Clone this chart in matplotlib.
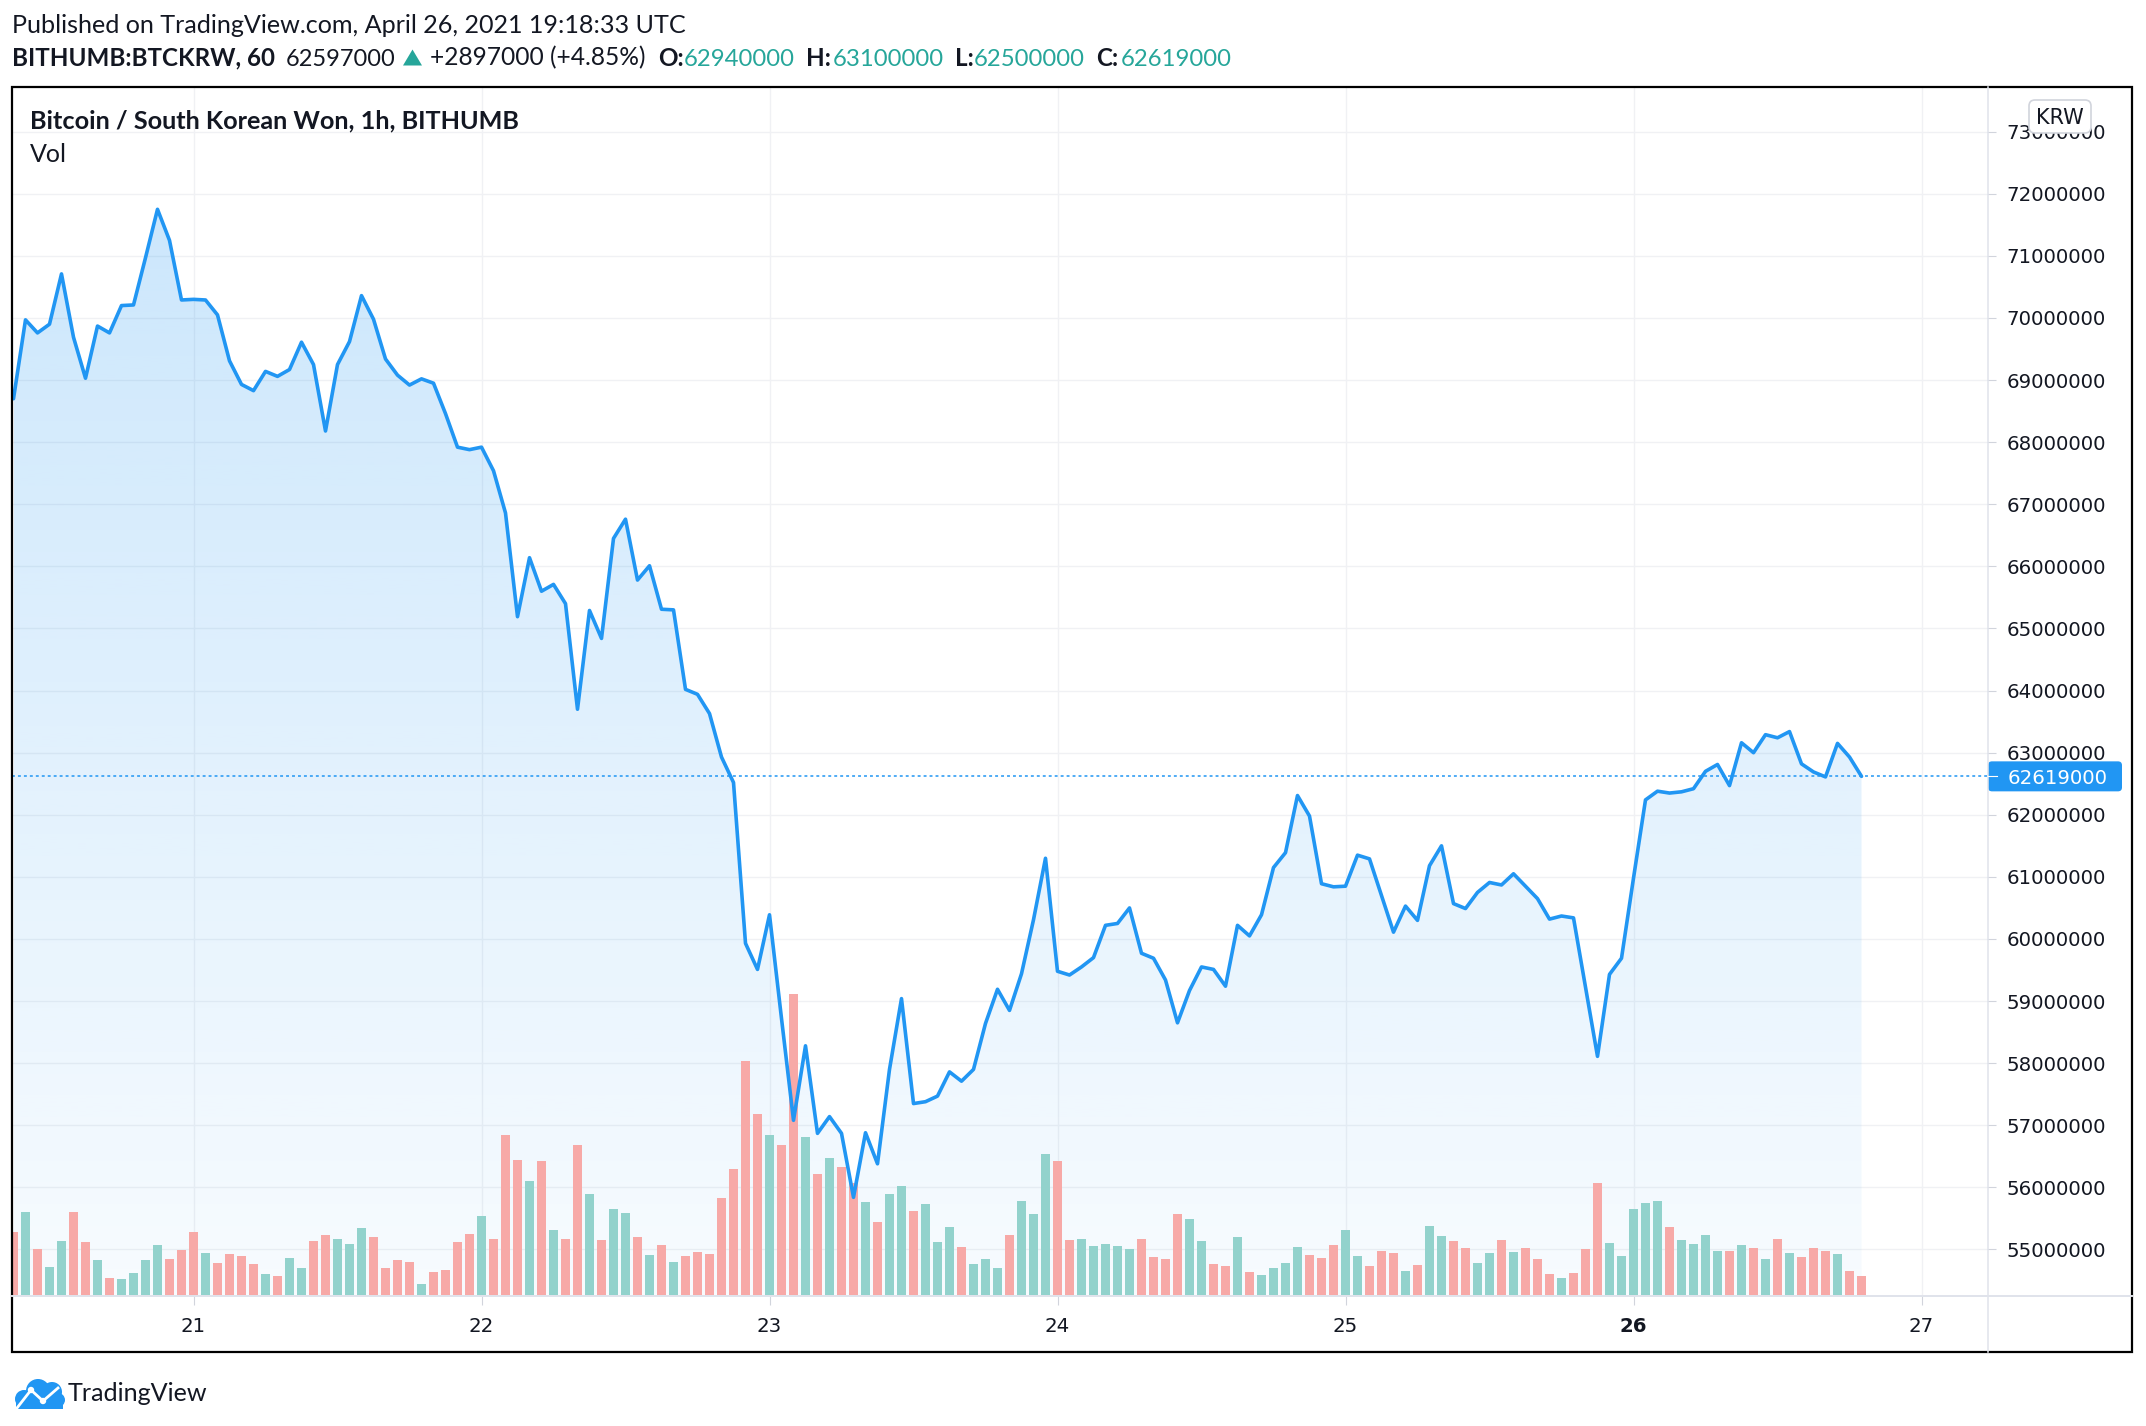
import matplotlib
matplotlib.use("Agg")
import matplotlib.pyplot as plt
import numpy as np
import matplotlib.transforms as mtransforms
from matplotlib.patches import Rectangle, FancyBboxPatch, Circle, Polygon
from matplotlib.lines import Line2D

# ---------------- data ----------------
# hourly bars, hour index relative to 2021-04-21 00:00 UTC
hours = list(range(-15, 140))
price_m = [  # close price, million KRW
    68.70, 69.97, 69.76, 69.90, 70.71, 69.69, 69.03, 69.87, 69.76, 70.20, 70.21, 70.97, 71.75, 71.25, 70.29,
    70.30, 70.29, 70.05, 69.31, 68.93, 68.83, 69.14, 69.06, 69.17, 69.61, 69.25, 68.18,
    69.25, 69.62, 70.36, 69.98, 69.34, 69.08, 68.92, 69.02, 68.95, 68.46, 67.92, 67.88,
    67.92, 67.54, 66.86, 65.19, 66.14, 65.60, 65.71, 65.40, 63.70, 65.29, 64.84, 66.45,
    66.76, 65.78, 66.01, 65.31, 65.30, 64.02, 63.94, 63.63, 62.93, 62.52, 59.93, 59.51,
    60.39, 58.72, 57.08, 58.28, 56.87, 57.14, 56.87, 55.84, 56.88, 56.38, 57.90, 59.04,
    57.35, 57.38, 57.47, 57.86, 57.71, 57.90, 58.64, 59.19, 58.85, 59.44, 60.31, 61.30,
    59.48, 59.42, 59.55, 59.70, 60.22, 60.25, 60.50, 59.77, 59.69, 59.34, 58.65, 59.17,
    59.55, 59.51, 59.24, 60.22, 60.05, 60.39, 61.15, 61.39, 62.31, 61.98, 60.89, 60.84,
    60.85, 61.35, 61.29, 60.70, 60.11, 60.53, 60.30, 61.18, 61.50, 60.57, 60.49, 60.75,
    60.91, 60.87, 61.05, 60.85, 60.65, 60.32, 60.37, 60.34, 59.22, 58.11, 59.43, 59.69,
    60.98, 62.24, 62.38, 62.35, 62.37, 62.42, 62.70, 62.81, 62.47, 63.16, 63.00, 63.29,
    63.24, 63.34, 62.82, 62.69, 62.61, 63.15, 62.93, 62.619,
]
volume = [  # relative volume
    188, 248, 137, 84, 161, 248, 158, 104, 50, 47, 65, 104, 149, 107, 134,
    188, 125, 95, 122, 116, 92, 62, 56, 110, 80, 161, 179, 167, 152, 200, 173, 80, 104, 98, 32, 68, 74, 158, 182,
    236, 167, 479, 404, 341, 401, 194, 167, 449, 302, 164, 257, 245, 173, 119, 149, 98, 116, 128, 122, 290, 377, 701, 542,
    479, 449, 902, 473, 362, 410, 383, 335, 278, 218, 302, 326, 251, 272, 158, 203, 143, 92, 107, 80, 179, 281, 242, 422,
    401, 164, 167, 146, 152, 146, 137, 167, 113, 107, 242, 227, 161, 92, 86, 173, 68, 59, 80, 95, 143, 119, 110, 149,
    194, 116, 86, 131, 125, 71, 89, 206, 176, 161, 140, 95, 125, 164, 128, 140, 107, 62, 50, 65, 137, 335, 155, 116,
    257, 275, 281, 203, 164, 152, 179, 131, 131, 149, 140, 107, 167, 125, 113, 140, 131, 122, 71, 56,
]
vol_up = [  # 1 = up bar (green), 0 = down bar (red)
    0, 1, 0, 1, 1, 0, 0, 1, 0, 1, 1, 1, 1, 0, 0,
    0, 1, 0, 0, 0, 0, 1, 0, 1, 1, 0, 0, 1, 1, 1, 0, 0, 0, 0, 1, 0, 0, 0, 0,
    1, 0, 0, 0, 1, 0, 1, 0, 0, 1, 0, 1, 1, 0, 1, 0, 1, 0, 0, 0, 0, 0, 0, 0,
    1, 0, 0, 1, 0, 1, 0, 0, 1, 0, 1, 1, 0, 1, 1, 1, 0, 1, 1, 1, 0, 1, 1, 1,
    0, 0, 1, 1, 1, 1, 1, 0, 0, 0, 0, 1, 1, 0, 0, 1, 0, 1, 1, 1, 1, 0, 0, 0,
    1, 1, 0, 0, 0, 1, 0, 1, 1, 0, 0, 1, 1, 0, 1, 0, 0, 0, 1, 0, 0, 0, 1, 1,
    1, 1, 1, 0, 1, 1, 1, 1, 0, 1, 0, 1, 0, 1, 0, 0, 0, 1, 0, 0,
]
day_ticks = [0, 24, 48, 72, 96, 120, 144]
day_labels = ["21", "22", "23", "24", "25", "26", "27"]
price_ticks_m = list(range(55, 74))
last_price = 62619000
header_line1 = "Published on TradingView.com, April 26, 2021 19:18:33 UTC"
symbol_text = "BITHUMB:BTCKRW, 60"
ohlc_labels = ["O:", "H:", "L:", "C:"]
ohlc_values = ["62940000", "63100000", "62500000", "62619000"]
last_text = "62597000"
change_text = "+2897000 (+4.85%)"
title_text = "Bitcoin / South Korean Won, 1h, BITHUMB"

# ---------------- figure ----------------
W, H = 2146, 1426
fig = plt.figure(figsize=(W / 100, H / 100), dpi=100)
fig.patch.set_facecolor("white")
t_px = mtransforms.Affine2D().scale(1, -1).translate(0, H)  # image pixel coords

BLUE = "#2196F3"
DARK = "#131722"
TEAL = "#26A69A"
GRID = "#F0F1F4"
SEP = "#E0E3EB"
AXFS = 14.2

L, R, T, B = 12, 1987, 87.6, 1294.7
pos = [L / W, 1 - B / H, (R - L) / W, (B - T) / H]
x0 = (L - 193.5) / 12.0
x1 = (R - 193.5) / 12.0
ylo, yhi = 54.272e6, 73.71e6

hrs = np.array(hours, dtype=float)
price = np.array(price_m) * 1e6
vol = np.array(volume, dtype=float)
up = np.array(vol_up, dtype=bool)

ax = fig.add_axes(pos)
ax.set_xlim(x0, x1)
ax.set_ylim(ylo, yhi)
for s in ax.spines.values():
    s.set_visible(False)
ax.set_yticks([v * 1e6 for v in price_ticks_m])
ax.set_yticklabels([f"{v * 1000000:d}" for v in price_ticks_m])
ax.set_xticks(day_ticks)
ax.set_xticklabels(day_labels)
ax.yaxis.tick_right()
ax.tick_params(axis="y", right=True, left=False, labelright=True, labelleft=False,
               length=6.5, width=0.8, color="#D1D4DC", pad=7.5, labelsize=AXFS, labelcolor=DARK)
ax.tick_params(axis="x", bottom=True, length=7.2, width=0.8, color="#D1D4DC", pad=8.5,
               labelsize=AXFS, labelcolor=DARK)
for lab in ax.get_xticklabels():
    if lab.get_text() == "26":
        lab.set_fontweight("bold")
ax.grid(True, color=GRID, linewidth=1.0)
ax.set_axisbelow(True)

# gradient area
fill = ax.fill_between(hrs, price, ylo, facecolor="none", edgecolor="none")
clip_path = fill.get_paths()[0]
n = 256
grad = np.zeros((n, 1, 4))
grad[:, 0, 0] = 33 / 255
grad[:, 0, 1] = 150 / 255
grad[:, 0, 2] = 243 / 255
grad[:, 0, 3] = np.linspace(0.23, 0.035, n)
im = ax.imshow(grad, extent=(hrs[0], hrs[-1], ylo, price.max()), aspect="auto",
               origin="upper", zorder=1, interpolation="bilinear")
im.set_clip_path(clip_path, transform=ax.transData)
ax.set_xlim(x0, x1)
ax.set_ylim(ylo, yhi)

# volume
axv = fig.add_axes(pos, sharex=ax)
axv.set_ylim(0, (B - T) * 3)
axv.set_facecolor("none")
axv.axis("off")
colors = np.where(up, "#92D2CC", "#F7A9A7")
axv.bar(hrs, vol, width=0.83, color=colors, linewidth=0)
axv.set_xlim(x0, x1)

# price line
axl = fig.add_axes(pos, sharex=ax)
axl.set_ylim(ylo, yhi)
axl.set_facecolor("none")
axl.axis("off")
axl.plot(hrs, price, color=BLUE, lw=2.6, solid_joinstyle="round", solid_capstyle="round")
axl.axhline(last_price, color=BLUE, lw=1.1, ls=(0, (1.9, 2.0)))
axl.set_xlim(x0, x1)

# separators and frame
fig.add_artist(Line2D([R + 0.5, R + 0.5], [87, 1352], transform=t_px, color=SEP, lw=1.1))
fig.add_artist(Line2D([12, 2132], [1295.5, 1295.5], transform=t_px, color=SEP, lw=1.4))
fig.add_artist(Rectangle((12, 87), 2120, 1265, transform=t_px, fill=False,
                         edgecolor="black", lw=1.6))

# current price label
fig.canvas.draw()
ypx = H - ax.transData.transform((0, last_price))[1]
fig.add_artist(FancyBboxPatch((1988, ypx - 15), 134, 30, boxstyle="round,pad=0,rounding_size=4",
                              transform=t_px, facecolor=BLUE, edgecolor="none"))
fig.add_artist(Line2D([1988, 1997], [ypx, ypx], transform=t_px, color="white", lw=0.8))
fig.text(2007.5, ypx, f"{last_price:d}", transform=t_px, color="white", fontsize=AXFS,
         va="center_baseline", ha="left", family="DejaVu Sans")

# KRW box
fig.add_artist(FancyBboxPatch((2029, 100), 62, 33, boxstyle="round,pad=0,rounding_size=6",
                              transform=t_px, facecolor="white", edgecolor="#D1D4DC", lw=1.2))
fig.text(2060, 124, "KRW", transform=t_px, color=DARK, fontsize=15, ha="center",
         va="baseline", family="DejaVu Sans")

renderer = fig.canvas.get_renderer()


def fit_text(x, y, s, target_w, size0=16, **kw):
    t = fig.text(x, y, s, transform=t_px, fontsize=size0, va="baseline", ha="left", **kw)
    w = t.get_window_extent(renderer).width
    t.set_fontsize(size0 * target_w / w)
    return t


FONT = ["Lato", "DejaVu Sans"]
h1 = fit_text(12, 33, header_line1, 677, family=FONT, color=DARK)
hb = fit_text(12, 65.5, symbol_text, 262, family=FONT, color=DARK, fontweight="bold")
s_bold = hb.get_fontsize()


def put(x, y, s, size, **kw):
    return fig.text(x, y, s, transform=t_px, fontsize=size, va="baseline", ha="left", **kw)


fit_text(286, 65.5, last_text, 110, family=FONT, color=DARK)
fig.add_artist(Polygon([(403, 65.5), (422, 65.5), (412.5, 49.5)], closed=True,
                       transform=t_px, facecolor=TEAL, edgecolor="none"))
fit_text(430, 65.5, change_text, 216, family=FONT, color=DARK)
lab_x = [658, 806, 955, 1096]
val_x = [684, 833, 974, 1121]
for lx, vx, lt, vt in zip(lab_x, val_x, ohlc_labels, ohlc_values):
    put(lx, 65.5, lt, s_bold, family=FONT, color=DARK, fontweight="bold")
    fit_text(vx, 65.5, vt, 111, family=FONT, color=TEAL)

fit_text(30, 128.5, title_text, 491, family=FONT, color=DARK, fontweight="bold")
fit_text(30, 162, "Vol", 37, family=FONT, color=DARK)

# TradingView logo
logo_c = BLUE
for (cx, cy, r) in [(24, 1399, 9), (38, 1391, 12), (52, 1392, 10), (58, 1400, 7)]:
    fig.add_artist(Circle((cx, cy), r, transform=t_px, facecolor=logo_c, edgecolor="none"))
fig.add_artist(Rectangle((16, 1398), 47, 11, transform=t_px, facecolor=logo_c, edgecolor="none"))
fig.add_artist(Line2D([17, 31, 43, 58], [1408, 1390, 1401, 1388], transform=t_px,
                      color="white", lw=2.0, solid_joinstyle="round"))
for (cx, cy) in [(31, 1390), (43, 1401)]:
    fig.add_artist(Circle((cx, cy), 3.2, transform=t_px, facecolor="white", edgecolor="none"))
fit_text(68, 1401, "TradingView", 141, family=FONT, color=DARK)

fig.savefig("out.png", dpi=100, facecolor="white")
